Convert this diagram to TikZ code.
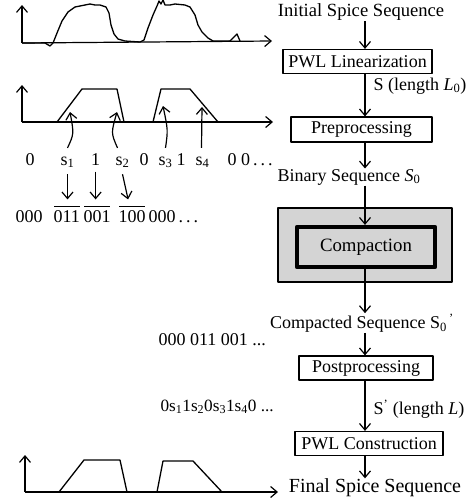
\documentclass[tikz,border=0pt]{standalone}
\usepackage{fontspec}
\setmainfont{Liberation Serif}
\usetikzlibrary{arrows.meta,calc}
\begin{document}
\begin{tikzpicture}[x=1pt,y=-1pt,
  line width=1.2pt, line join=round,
  arr/.style={-{Straight Barb[length=6.5pt,width=11pt,line width=1.2pt]}},
  lbl/.style={inner sep=0pt, font=\fontsize{18}{20}\selectfont},
  boxn/.style={draw, line width=1.2pt, inner sep=0pt, font=\fontsize{18}{20}\selectfont, minimum height=24pt},
  wave/.style={line width=1.3pt},
  ovl/.style={line width=1pt},
]
\useasboundingbox (0,0) rectangle (470,504);
\coordinate (col) at (365,0);

% ---------- right column ----------
\node[lbl, font=\fontsize{18.6}{20}\selectfont] (init) at (361,12) {Initial Spice Sequence};
\node[boxn, minimum width=149pt] (pwl1) at (357.5,61.5) {PWL Linearization};
\node[lbl, anchor=west] (slab) at (373,86) {S (length \textit{L}\textsubscript{0})};
\node[boxn, minimum width=141pt, minimum height=25pt] (pre) at (361.5,129.5) {Preprocessing};
\node[lbl] (bin) at (349,177) {Binary Sequence \textit{S}\textsubscript{0}};
\node[draw, fill=black!17, line width=1.2pt, minimum width=174pt, minimum height=74pt] (outer) at (365,245) {};
\node[boxn, line width=4.2pt, fill=black!17, minimum width=138pt, minimum height=40pt, font=\fontsize{18.8}{20}\selectfont] (comp) at (366,247) {Compaction};
\node[lbl] (cmpd) at (362,323) {Compacted Sequence S\textsubscript{0}\textsuperscript{\,'}};
\node[boxn, minimum width=134pt] (post) at (366,368) {Postprocessing};
\node[lbl, anchor=west] (slab2) at (373,409) {S\textsuperscript{'}\ (length \textit{L})};
\node[boxn, minimum width=148pt] (pwlc) at (369,443.5) {PWL Construction};
\node[lbl, font=\fontsize{20}{22}\selectfont] (final) at (375,488) {Final Spice Sequence};

\draw[arr] (init.south -| col) -- (pwl1.north -| col);
\draw[arr] (pwl1.south -| col) -- (pre.north -| col);
\draw[arr] (pre.south -| col) -- (bin.north -| col);
\draw[arr] (bin.south -| col) -- (comp.north -| col);
\draw[arr] (comp.south -| col) -- (cmpd.north -| col);
\draw[arr] (cmpd.south -| col) -- (post.north -| col);
\draw[arr] (post.south -| col) -- (pwlc.north -| col);
\draw[arr] (pwlc.south -| col) -- (final.north -| col);

% ---------- top waveform ----------
\coordinate (o1) at (22,43);
\coordinate (y1) at (22,5);
\coordinate (x1) at (272,41);
\draw[arr] (o1) -- (y1);
\draw[arr] (o1) -- (x1);
\draw[wave] (o1) -- (45,43) -- (50,46) -- (53,43) -- (57,33) -- (62,21) -- (68,12) -- (75,7) -- (85,5) -- (90,4) -- (95,5)
  -- (100,5) -- (106,7) -- (109,13) -- (111,25) -- (114,34) -- (118,39) -- (125,41) -- (140,42) -- (144,40)
  -- (148,28) -- (153,15) -- (157,6) -- (159,1) -- (161,4) -- (163,0) -- (165,5) -- (170,5) -- (175,4) -- (185,5)
  -- (190,7) -- (195,15) -- (198,25) -- (202,32) -- (208,38) -- (213,41) -- (230,41) -- (234,37) -- (237,34) -- (240,41);

% ---------- second waveform ----------
\coordinate (o2) at (22,122);
\coordinate (y2) at (22,85);
\coordinate (x2) at (273,122);
\draw[arr] (o2) -- (y2);
\draw[arr] (o2) -- (x2);
\draw[wave] (57,122) -- (82,89) -- (117,89) -- (124,122);
\draw[wave] (153,122) -- (161,89) -- (190,89) -- (218,122);

% label row
\node[lbl, anchor=base west] (z0) at (25,165) {0};
\node[lbl, anchor=base west] (s1) at (60,165) {s\textsubscript{1}};
\node[lbl, anchor=base west] (n1) at (90.5,165) {1};
\node[lbl, anchor=base west] (s2) at (115,165) {s\textsubscript{2}};
\node[lbl, anchor=base west] (z1) at (139,165) {0};
\node[lbl, anchor=base west] (s3) at (158,165) {s\textsubscript{3}};
\node[lbl, anchor=base west] (n2) at (176,165) {1};
\node[lbl, anchor=base west] (s4) at (195,165) {s\textsubscript{4}};
\node[lbl, anchor=base west] (tail) at (227,165) {0 0\,.\,.\,.};

\coordinate (t1) at (70,112);
\coordinate (t2) at (117,112);
\coordinate (t3) at (163,106);
\coordinate (t4) at (202,107);
\draw[arr] ([yshift=8pt]s1.north) .. controls (74,134) .. (t1);
\draw[arr] ([xshift=-5pt,yshift=8pt]s2.north) .. controls (111,133) .. (t2);
\draw[arr] ([yshift=8pt]s3.north) .. controls (168,130) .. (t3);
\draw[arr] ([xshift=-1pt,yshift=8pt]s4.north) -- (t4);

% code row
\node[lbl, anchor=base west] (g0) at (15,222) {000};
\node[lbl, anchor=base west] (g011) at (53,222) {011};
\node[lbl, anchor=base west] (g001) at (83,222) {001};
\node[lbl, anchor=base west] (g100) at (118,222) {100};
\node[lbl, anchor=base west] (g000) at (148,222) {000\,.\,.\,.};
\draw[ovl] ([xshift=1pt,yshift=3pt]g011.north west) -- ([xshift=-1pt,yshift=3pt]g011.north east);
\draw[ovl] ([xshift=1pt,yshift=3pt]g001.north west) -- ([xshift=-1pt,yshift=3pt]g001.north east);
\draw[ovl] ([xshift=1pt,yshift=3pt]g100.north west) -- ([xshift=-1pt,yshift=3pt]g100.north east);

\draw[arr] ([yshift=-6pt]s1.south) -- ([yshift=10pt]s1.south |- g011.north);
\draw[arr] ([yshift=-6pt]n1.south) -- ([yshift=10pt]n1.south |- g001.north);
\draw[arr] ([yshift=-6pt]s2.south) -- ([xshift=-4pt,yshift=10pt]g100.north);

% left texts
\node[lbl, anchor=west] (cseq) at (158,340) {000 011 001 ...};
\node[lbl, anchor=west, font=\fontsize{17.2}{20}\selectfont] (sseq) at (160,407) {0s\textsubscript{1}1s\textsubscript{2}0s\textsubscript{3}1s\textsubscript{4}0 ...};

% ---------- bottom waveform ----------
\coordinate (o3) at (25,492);
\coordinate (y3) at (25,455);
\coordinate (x3) at (278,492);
\draw[arr] (o3) -- (y3);
\draw[arr] (o3) -- (x3);
\draw[wave] (59,492) -- (84,460) -- (120,460) -- (127,492);
\draw[wave] (157,492) -- (163,461) -- (193,461) -- (222,492);
\end{tikzpicture}
\end{document}
